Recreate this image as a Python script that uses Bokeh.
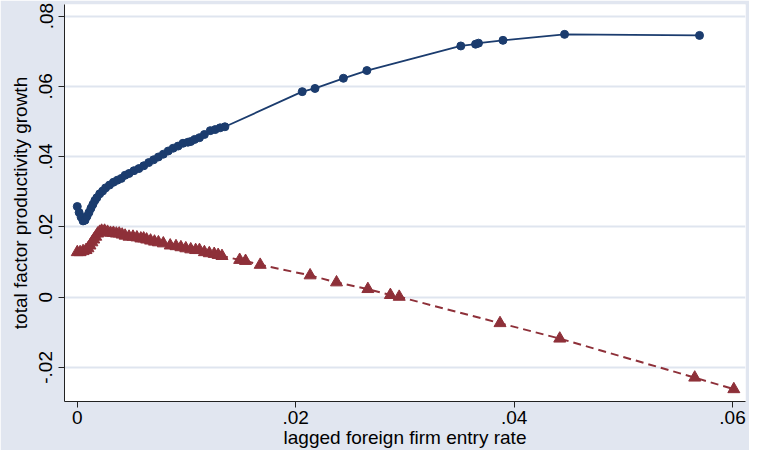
from bokeh.plotting import figure
from bokeh.models import FixedTicker, Range1d
from bokeh.embed import file_html
from bokeh.resources import INLINE

# ---- data ----
blue_x = [0.0000, 0.00017, 0.00035, 0.00053, 0.00071, 0.00089, 0.00107, 0.00125, 0.00143,
          0.00161, 0.00179, 0.00205, 0.00232, 0.00259, 0.00295, 0.00331, 0.00367, 0.00403,
          0.00438, 0.00474, 0.00519, 0.00564, 0.00609, 0.00654, 0.00699, 0.00743, 0.00788,
          0.00833, 0.00878, 0.00923, 0.00968, 0.01013, 0.01039, 0.01075, 0.01119, 0.01164,
          0.01218, 0.01263, 0.01308, 0.01352,
          0.02060, 0.02177, 0.02437, 0.02652, 0.03512, 0.03647, 0.03674, 0.03898, 0.04462, 0.05698]
blue_y = [0.0258, 0.0241, 0.0228, 0.0217, 0.0219, 0.0230, 0.0241, 0.0253, 0.0264,
          0.0275, 0.0283, 0.0294, 0.0302, 0.0311, 0.0319, 0.0327, 0.0333, 0.0338,
          0.0347, 0.0352, 0.0360, 0.0366, 0.0374, 0.0383, 0.0391, 0.0399, 0.0407,
          0.0416, 0.0424, 0.0430, 0.0438, 0.0441, 0.0443, 0.0449, 0.0454, 0.0463,
          0.0474, 0.0477, 0.0482, 0.0485,
          0.0585, 0.0594, 0.0623, 0.0645, 0.0715, 0.0720, 0.0723, 0.0731, 0.0748, 0.0745]

red_x = [0.0000, 0.00026, 0.00053, 0.00080, 0.00098, 0.00116, 0.00134, 0.00151, 0.00169,
         0.00187, 0.00205, 0.00223, 0.00250, 0.00277, 0.00304, 0.00331, 0.00358, 0.00384,
         0.00411, 0.00438, 0.00474, 0.00510, 0.00546, 0.00582, 0.00608, 0.00635, 0.00671,
         0.00707, 0.00743, 0.00788, 0.00851, 0.00904, 0.00949, 0.00994, 0.01039, 0.01084,
         0.01119, 0.01164, 0.01209, 0.01254, 0.01290, 0.01325,
         0.01487, 0.01541, 0.01675, 0.02132, 0.02374, 0.02661, 0.02867, 0.02948,
         0.03871, 0.04418, 0.05654, 0.06012]
red_y = [0.0128, 0.0128, 0.0131, 0.0134, 0.0139, 0.0147, 0.0156, 0.0164, 0.0172,
         0.0181, 0.0186, 0.0189, 0.0189, 0.0186, 0.0183, 0.0183, 0.0181, 0.0181,
         0.0178, 0.0175, 0.0172, 0.0172, 0.0170, 0.0167, 0.0167, 0.0164, 0.0161,
         0.0158, 0.0156, 0.0153, 0.0147, 0.0145, 0.0142, 0.0139, 0.0136, 0.0134,
         0.0134, 0.0128, 0.0125, 0.0123, 0.0120, 0.0117,
         0.0106, 0.0103, 0.0092, 0.0062, 0.0042, 0.0023, 0.0006, 0.0001,
         -0.0074, -0.0118, -0.0229, -0.0262]

x_ticks = [0, 0.02, 0.04, 0.06]
x_tick_labels = ["0", ".02", ".04", ".06"]
y_ticks = [-0.02, 0, 0.02, 0.04, 0.06, 0.08]
y_tick_labels = ["-.02", "0", ".02", ".04", ".06", ".08"]

x_title = "lagged foreign firm entry rate"
y_title = "total factor productivity growth"

BG = "#e1e6f0"
BLUE = "#1b3c6e"
RED = "#8e3039"
FONT = "Liberation Sans"

p = figure(width=749, height=450, output_backend="svg", toolbar_location=None,
           x_range=Range1d(-0.00117, 0.06119), y_range=Range1d(-0.0297, 0.0833),
           min_border_left=64, min_border_right=4, min_border_top=4, min_border_bottom=48)

p.background_fill_color = "white"
p.border_fill_color = BG
p.outline_line_color = None

# grid
p.xgrid.grid_line_color = None
p.ygrid.grid_line_color = "#dfe5ef"
p.ygrid.grid_line_width = 2
p.ygrid.ticker = FixedTicker(ticks=y_ticks)

# axes
for ax, ticks, labels in ((p.xaxis[0], x_ticks, x_tick_labels), (p.yaxis[0], y_ticks, y_tick_labels)):
    ax.ticker = FixedTicker(ticks=ticks)
    ax.major_label_overrides = {t: l for t, l in zip(ticks, labels)}
    ax.minor_tick_line_color = None
    ax.major_tick_out = 6
    ax.major_tick_in = 0
    ax.axis_line_color = "#222222"
    ax.major_tick_line_color = "#222222"
    ax.major_label_text_font = FONT
    ax.major_label_text_font_size = "19px"
    ax.major_label_text_color = "black"
    ax.axis_label_text_font = FONT
    ax.axis_label_text_font_size = "19px"
    ax.axis_label_text_font_style = "normal"
    ax.axis_label_text_color = "black"

p.xaxis.axis_label = x_title
p.yaxis.axis_label = y_title
p.yaxis.major_label_orientation = "vertical"
p.xaxis.major_label_standoff = 3
p.xaxis.axis_label_standoff = 0
p.yaxis.major_label_standoff = 6
p.yaxis.axis_label_standoff = 6

# series
p.line(red_x, red_y, line_color=RED, line_width=2, line_dash="8 5")
p.scatter(red_x, red_y, marker="triangle", size=12, fill_color=RED, line_color=RED)

p.line(blue_x, blue_y, line_color=BLUE, line_width=1.8)
p.scatter(blue_x, blue_y, marker="circle", size=8, fill_color=BLUE, line_color=BLUE)

open("out.html", "w").write(file_html(p, INLINE))
